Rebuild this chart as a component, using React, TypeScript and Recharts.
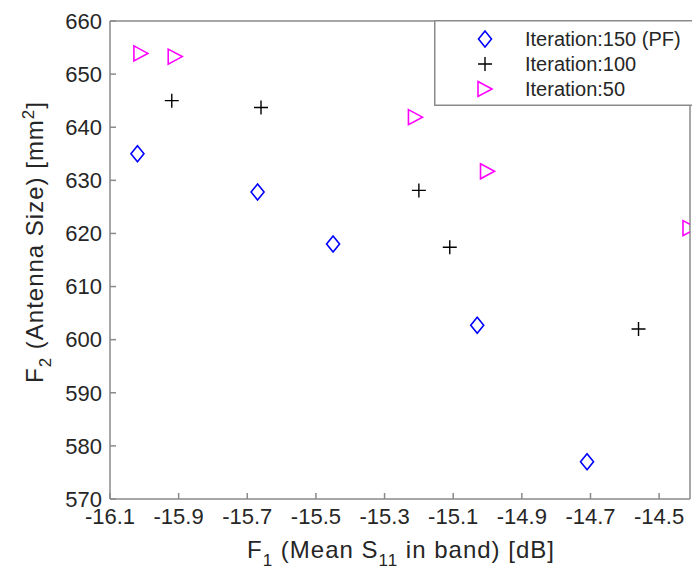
import { ScatterChart, Scatter, XAxis, YAxis } from 'recharts';

const xTicks = [-16.1, -15.9, -15.7, -15.5, -15.3, -15.1, -14.9, -14.7, -14.5];
const yTicks = [570, 580, 590, 600, 610, 620, 630, 640, 650, 660];

const it150F1 = [-16.02, -15.67, -15.45, -15.03, -14.71];
const it150F2 = [635.0, 627.8, 618.0, 602.7, 577.0];
const it100F1 = [-15.92, -15.66, -15.2, -15.11, -14.56];
const it100F2 = [645.0, 643.7, 628.1, 617.4, 602.0];
const it50F1 = [-16.01, -15.91, -15.21, -15.0, -14.41];
const it50F2 = [653.9, 653.3, 641.9, 631.7, 621.0];

const toPts = (xs: number[], ys: number[]) => xs.map((x, i) => ({ x, y: ys[i] }));

const font = '"Liberation Sans", Arial, Helvetica, sans-serif';
const axisGray = '#8a8a8a';
const textCol = '#262626';

const Diamond = ({ cx, cy }: any) => (
  <path d={`M${cx},${cy - 8}L${cx + 6.5},${cy}L${cx},${cy + 8}L${cx - 6.5},${cy}Z`} fill="none" stroke="#0000ff" strokeWidth={1.6} />
);
const Plus = ({ cx, cy }: any) => (
  <path d={`M${cx - 7},${cy}H${cx + 7}M${cx},${cy - 7}V${cy + 7}`} stroke="#000" strokeWidth={1.4} />
);
const Tri = ({ cx, cy }: any) => (
  <path d={`M${cx - 7},${cy - 7.5}L${cx + 7},${cy}L${cx - 7},${cy + 7.5}Z`} fill="none" stroke="#ff00ff" strokeWidth={1.6} />
);
const NoShape = () => <g />;

const series = [
  { name: 'Iteration:150 (PF)', data: toPts(it150F1, it150F2), shape: Diamond },
  { name: 'Iteration:100', data: toPts(it100F1, it100F2), shape: Plus },
  { name: 'Iteration:50', data: toPts(it50F1, it50F2), shape: Tri },
];

const LegendBox = () => (
  <svg width={262} height={86} style={{ display: 'block' }}>
    <rect x={0.75} y={0.75} width={270} height={84.5} fill="#fff" stroke={axisGray} strokeWidth={1.5} />
    {series.map((s, i) => {
      const Shape = s.shape;
      const cy = 19 + i * 25;
      return (
        <g key={s.name}>
          <Shape cx={51} cy={cy} />
          <text x={91} y={cy + 7} fontSize={20} fill={textCol} fontFamily={font}>{s.name}</text>
        </g>
      );
    })}
  </svg>
);

const XLabel = () => (
  <text x={401} y={558} textAnchor="middle" fontSize={24} letterSpacing={1} fill={textCol} fontFamily={font}>
    F<tspan dy={8} fontSize={17}>1</tspan>
    <tspan dy={-8}>{' (Mean S'}</tspan>
    <tspan dy={8} fontSize={17}>11</tspan>
    <tspan dy={-8}>{' in band) [dB]'}</tspan>
  </text>
);

const YLabel = () => (
  <text x={0} y={0} transform="translate(43,242) rotate(-90)" textAnchor="middle" fontSize={24} letterSpacing={1} fill={textCol} fontFamily={font}>
    F<tspan dy={8} fontSize={17}>2</tspan>
    <tspan dy={-8}>{' (Antenna Size) [mm'}</tspan>
    <tspan dy={-9} fontSize={17}>2</tspan>
    <tspan dy={9}>]</tspan>
  </text>
);

const axisLine = { stroke: axisGray, strokeWidth: 1.5 };

export default function App() {
  return (
    <div style={{ position: 'relative', width: 692, height: 577, overflow: 'hidden', background: '#fff' }}>
      <style>{'body{margin:0}'}</style>
      <ScatterChart width={692} height={577} margin={{ top: 20, right: 1, left: 0, bottom: 0 }}>
        <XAxis
          type="number" dataKey="x" domain={[-16.1, -14.41]} ticks={xTicks} allowDataOverflow
          height={78} tickSize={-6} tickMargin={15} interval={0}
          tickFormatter={(v: number) => v.toFixed(1)}
          tick={{ fontSize: 22, fill: textCol, fontFamily: font }}
          axisLine={axisLine} tickLine={axisLine}
          label={{ content: () => <XLabel /> }}
        />
        <XAxis
          xAxisId="top" orientation="top" type="number" dataKey="x" domain={[-16.1, -14.41]} ticks={xTicks} allowDataOverflow
          height={1} tickSize={-6} tick={false} interval={0}
          axisLine={axisLine} tickLine={axisLine}
        />
        <YAxis
          type="number" dataKey="y" domain={[570, 660]} ticks={yTicks} allowDataOverflow
          width={110} tickSize={-6} tickMargin={14} interval={0}
          tick={{ fontSize: 22, fill: textCol, fontFamily: font }}
          axisLine={axisLine} tickLine={axisLine}
          label={{ content: () => <YLabel /> }}
        />
        <YAxis
          yAxisId="right" orientation="right" type="number" dataKey="y" domain={[570, 660]} ticks={yTicks} allowDataOverflow
          width={1} tickSize={-6} tick={false} interval={0}
          axisLine={axisLine} tickLine={axisLine}
        />
        <Scatter
          data={series[0].data} xAxisId="top" yAxisId="right" shape={NoShape}
          legendType="none" isAnimationActive={false}
        />
        {series.map((s) => (
          <Scatter key={s.name} name={s.name} data={s.data} shape={s.shape} isAnimationActive={false} />
        ))}
      </ScatterChart>
      <div style={{ position: 'absolute', left: 434, top: 20 }}>
        <LegendBox />
      </div>
    </div>
  );
}
